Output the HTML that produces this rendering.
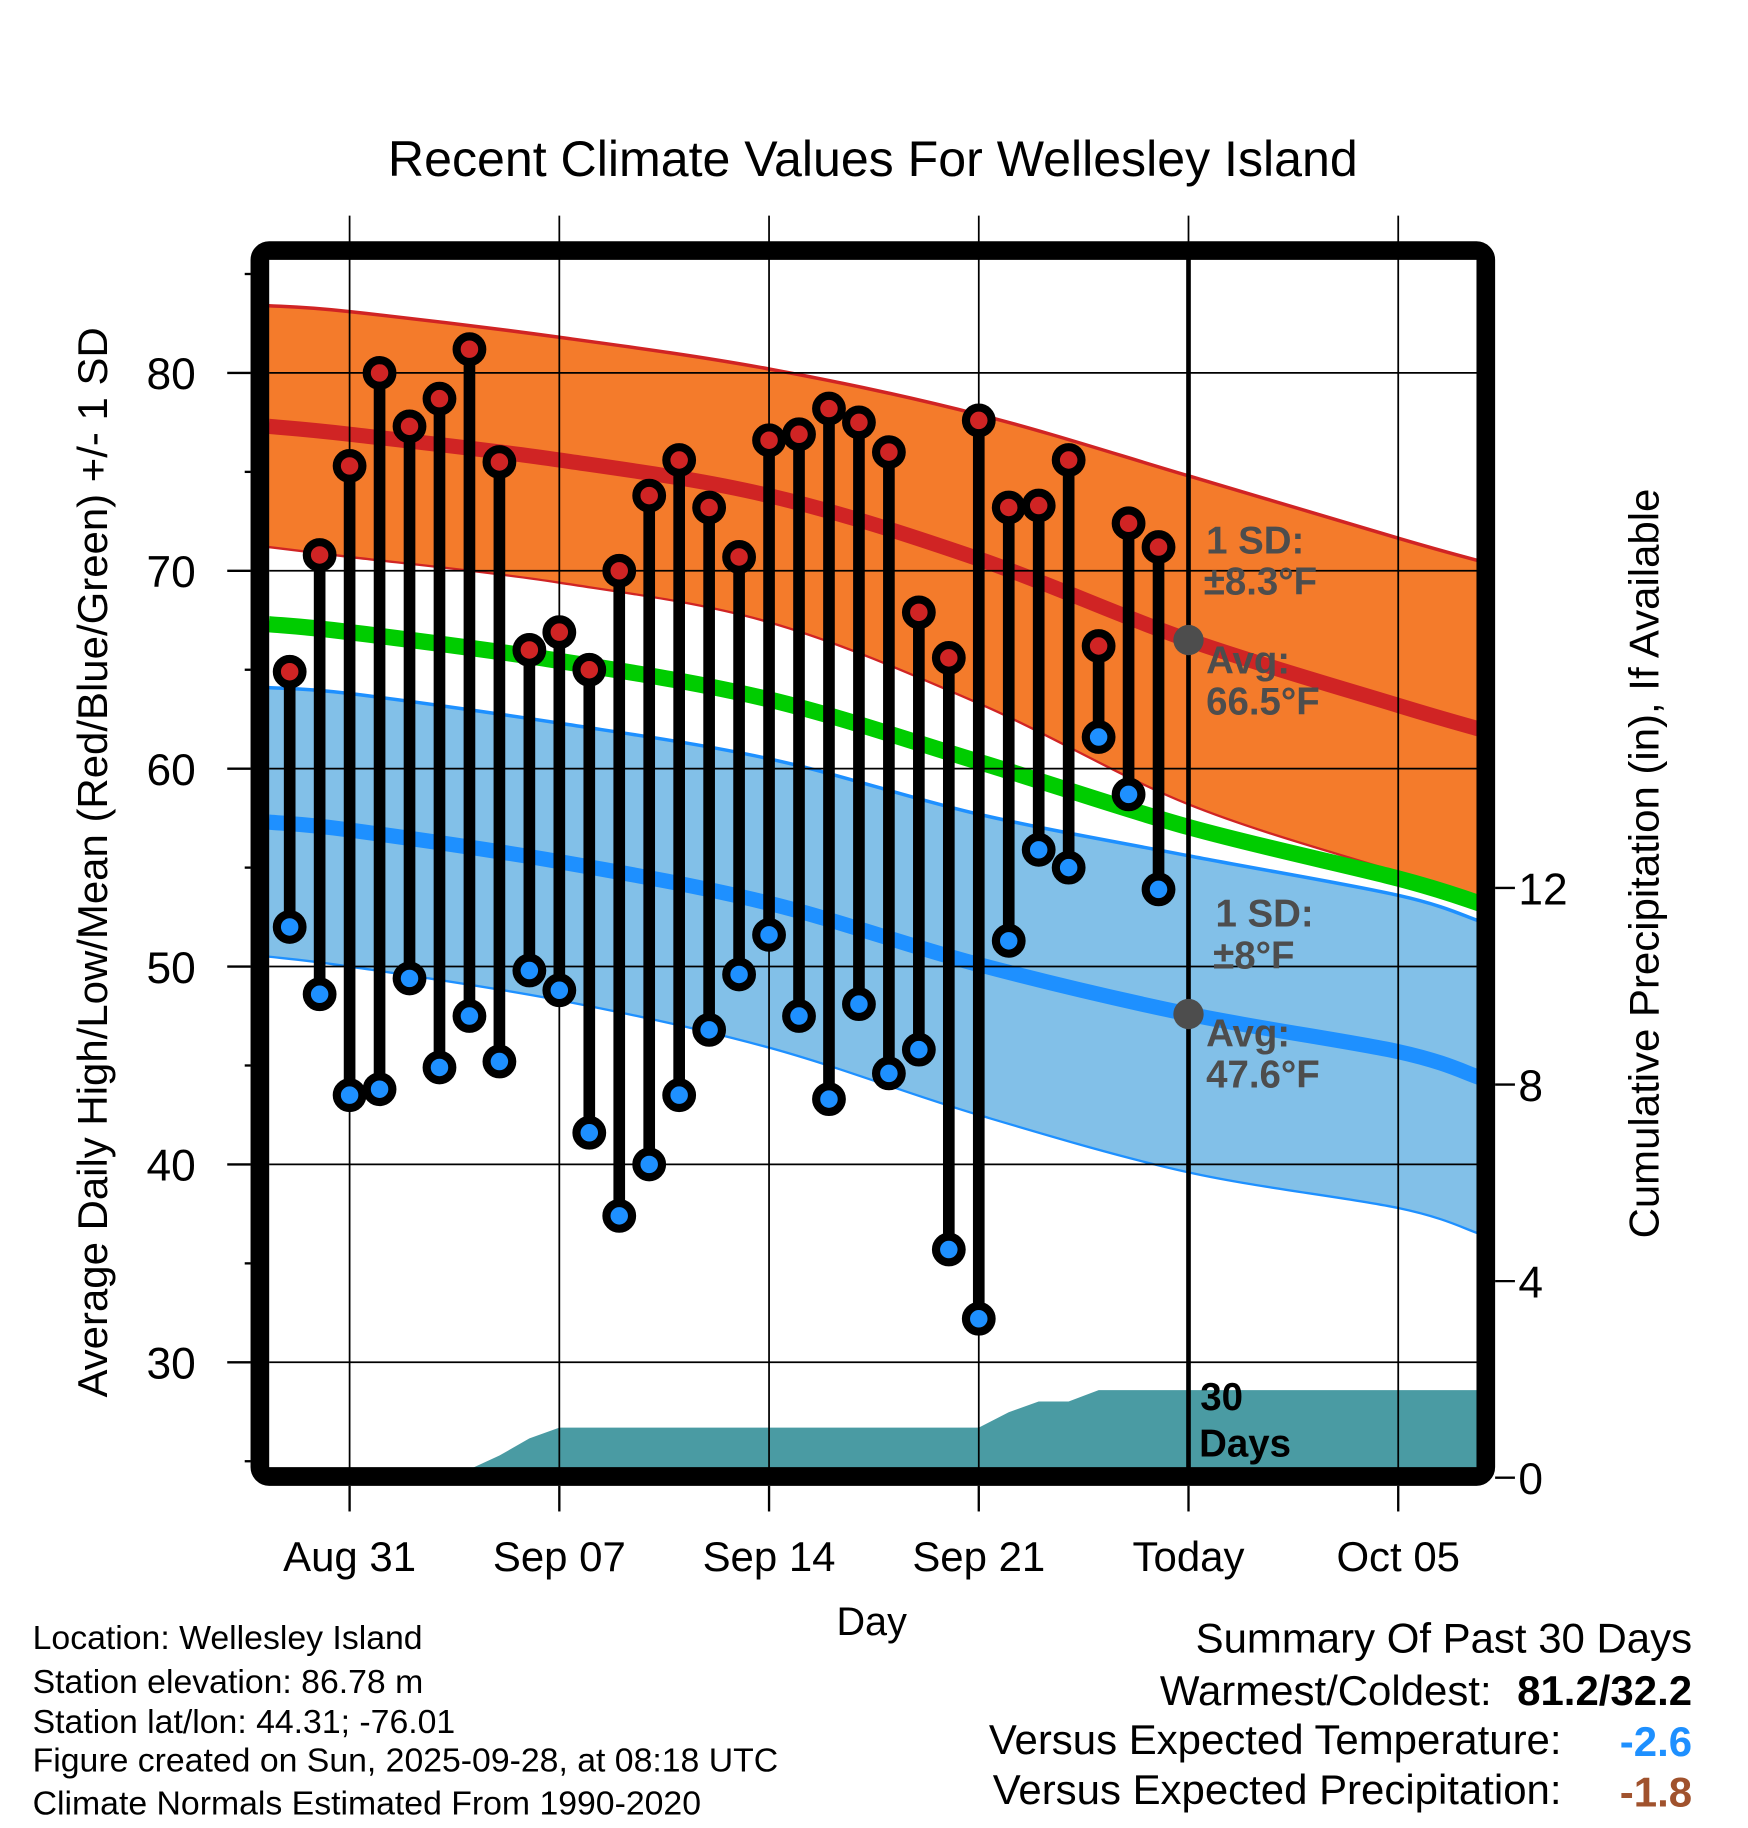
<!DOCTYPE html>
<html><head><meta charset="utf-8"><style>
html,body{margin:0;padding:0;background:#fff;}
svg{display:block;font-family:"Liberation Sans",Arial,sans-serif;}
</style></head><body>
<svg id="chart" width="1748" height="1828" viewBox="0 0 1500 1568.6" xmlns="http://www.w3.org/2000/svg">
<text x="749" y="151" font-size="43" text-anchor="middle">Recent Climate Values For Wellesley Island</text>
<g id="bands"></g>
<g id="precip"></g>
<g id="grid"></g>
<g id="stems"></g>
<g id="annot"></g>
<rect x="223" y="215" width="1052" height="1052" rx="8" fill="none" stroke="#000" stroke-width="16"/>
<g id="axes"></g>
<text transform="translate(92,740) rotate(-90)" font-size="36" text-anchor="middle">Average Daily High/Low/Mean (Red/Blue/Green) +/- 1 SD</text>
<text transform="translate(1423,741) rotate(-90)" font-size="36" text-anchor="middle">Cumulative Precipitation (in), If Available</text>
<text x="748" y="1403" font-size="34" text-anchor="middle">Day</text>
<g font-size="29">
<text x="28" y="1415">Location: Wellesley Island</text>
<text x="28" y="1453">Station elevation: 86.78 m</text>
<text x="28" y="1487">Station lat/lon: 44.31; -76.01</text>
<text x="28" y="1520">Figure created on Sun, 2025-09-28, at 08:18 UTC</text>
<text x="28" y="1557">Climate Normals Estimated From 1990-2020</text>
</g>
<g font-size="36">
<text x="1452" y="1418" text-anchor="end">Summary Of Past 30 Days</text>
<text x="1280" y="1463" text-anchor="end">Warmest/Coldest:</text>
<text x="1452" y="1463" text-anchor="end" font-weight="bold">81.2/32.2</text>
<text x="1340" y="1505" text-anchor="end">Versus Expected Temperature:</text>
<text x="1452" y="1507" text-anchor="end" font-weight="bold" fill="#1E90FF">-2.6</text>
<text x="1340" y="1548" text-anchor="end">Versus Expected Precipitation:</text>
<text x="1452" y="1550" text-anchor="end" font-weight="bold" fill="#A0522D">-1.8</text>
</g>
</svg>
<script>
const days=[-2,-1,0,1,2,3,4,5,6,7,8,9,10,11,12,13,14,15,16,17,18,19,20,21,22,23,24,25,26,27];
const highs=[64.9,70.8,75.3,80.0,77.3,78.7,81.2,75.5,66.0,66.9,65.0,70.0,73.8,75.6,73.2,70.7,76.6,76.9,78.2,77.5,76.0,67.9,65.6,77.6,73.2,73.3,75.6,66.2,72.4,71.2];
const lows=[52.0,48.6,43.5,43.8,49.4,44.9,47.5,45.2,49.8,48.8,41.6,37.4,40.0,43.5,46.8,49.6,51.6,47.5,43.3,48.1,44.6,45.8,35.7,32.2,51.3,55.9,55.0,61.6,58.7,53.9];
const normDays=[-2.7,0,7,14,21,28,35,37.7];
const normHigh=[77.3,76.9,75.6,73.8,70.6,66.5,63.2,62.0];
const sdHigh=[6.1,6.2,6.2,6.4,7.3,8.3,8.45,8.5];
const normLow=[57.3,56.9,55.3,53.2,50.1,47.6,45.7,44.4];
const sdLow=[6.8,6.9,7.0,7.3,7.6,8.0,7.9,7.9];
const precipDays=[-2.7,3.4,5,6,7,21,22,23,24,25,27,37.7];
const precipVals=[0,0,0.45,0.8,1.02,1.02,1.33,1.55,1.55,1.78,1.78,1.78];
const yTicks=[30,40,50,60,70,80];
const y2Ticks=[0,4,8,12];
const xTickDays=[0,7,14,21,28,35];
const xTickLabels=['Aug 31','Sep 07','Sep 14','Sep 21','Today','Oct 05'];

const NS='http://www.w3.org/2000/svg';
const X=d=>300+d*25.71;
const Y=v=>320+(80-v)*16.98;
const P=p=>1268-p*42.17;
const L=231,R=1268,T=222,B=1260;
function mk(tag,attrs,parent){const e=document.createElementNS(NS,tag);for(const k in attrs)e.setAttribute(k,attrs[k]);parent.appendChild(e);return e;}
function pts(xs,ys){return xs.map((d,i)=>[X(d),ys[i]]);}
// smooth Catmull-Rom path string (no M for continuation option)
function smooth(p,start){let s=start?('M'+p[0][0].toFixed(1)+','+p[0][1].toFixed(1)):('L'+p[0][0].toFixed(1)+','+p[0][1].toFixed(1));
 for(let i=0;i<p.length-1;i++){const p0=p[Math.max(0,i-1)],p1=p[i],p2=p[i+1],p3=p[Math.min(p.length-1,i+2)];
  const c1=[p1[0]+(p2[0]-p0[0])/6,p1[1]+(p2[1]-p0[1])/6],c2=[p2[0]-(p3[0]-p1[0])/6,p2[1]-(p3[1]-p1[1])/6];
  s+=' C'+c1.map(v=>v.toFixed(1)).join(',')+' '+c2.map(v=>v.toFixed(1)).join(',')+' '+p2.map(v=>v.toFixed(1)).join(',');}
 return s;}
const bands=document.getElementById('bands');
const hiUp=pts(normDays,normHigh.map((v,i)=>Y(v+sdHigh[i]))),hiDn=pts(normDays,normHigh.map((v,i)=>Y(v-sdHigh[i])));
const loUp=pts(normDays,normLow.map((v,i)=>Y(v+sdLow[i]))),loDn=pts(normDays,normLow.map((v,i)=>Y(v-sdLow[i])));
const rev=a=>a.slice().reverse();
let e;
e=mk('path',{d:smooth(hiUp,true)+' '+smooth(rev(hiDn),false)+' Z',fill:'#F47B2B'},bands);

e=mk('path',{d:smooth(hiUp,true),fill:'none',stroke:'#D02424','stroke-width':3},bands);

e=mk('path',{d:smooth(hiDn,true),fill:'none',stroke:'#D02424','stroke-width':2},bands);

e=mk('path',{d:smooth(loUp,true)+' '+smooth(rev(loDn),false)+' Z',fill:'#82C0E8'},bands);

e=mk('path',{d:smooth(loUp,true),fill:'none',stroke:'#1E90FF','stroke-width':3},bands);

e=mk('path',{d:smooth(loDn,true),fill:'none',stroke:'#1E90FF','stroke-width':2},bands);

e=mk('path',{d:smooth(pts(normDays,normHigh.map(Y)),true),fill:'none',stroke:'#D02424','stroke-width':13},bands);

e=mk('path',{d:smooth(pts(normDays,normLow.map(Y)),true),fill:'none',stroke:'#1E90FF','stroke-width':13},bands);

e=mk('path',{d:smooth(pts(normDays,normHigh.map((v,i)=>Y((v+normLow[i])/2))),true),fill:'none',stroke:'#00CC00','stroke-width':14},bands);

// precip
const pr=document.getElementById('precip');
const pp=pts(precipDays,precipVals.map(P)).map(q=>q[0].toFixed(1)+','+q[1].toFixed(1));
e=mk('polygon',{points:pp.join(' ')+' '+X(precipDays[precipDays.length-1]).toFixed(1)+','+B+' '+X(precipDays[0]).toFixed(1)+','+B,fill:'#4A9BA3'},pr);

// grid
const g=document.getElementById('grid');
yTicks.forEach(v=>{e=mk('line',{x1:L,x2:R,y1:Y(v),y2:Y(v),stroke:'#000','stroke-width':1.5},g);
});
xTickDays.forEach(d=>{e=mk('line',{x1:X(d),x2:X(d),y1:185,y2:B,stroke:'#000','stroke-width':1.5},g);
});
e=mk('line',{x1:X(28),x2:X(28),y1:T,y2:B,stroke:'#000','stroke-width':4},g);

// stems
const s=document.getElementById('stems');
days.forEach((d,i)=>{
 e=mk('line',{x1:X(d),x2:X(d),y1:Y(highs[i]),y2:Y(lows[i]),stroke:'#000','stroke-width':10},s);
 
});
days.forEach((d,i)=>{
 e=mk('circle',{cx:X(d),cy:Y(highs[i]),r:11,fill:'#D02424',stroke:'#000','stroke-width':7},s);
 
 e=mk('circle',{cx:X(d),cy:Y(lows[i]),r:11,fill:'#1E90FF',stroke:'#000','stroke-width':7},s);
 
});
// annotations
const a=document.getElementById('annot');
const todayHi=normHigh[5],todayLo=normLow[5];
e=mk('circle',{cx:X(28),cy:Y(todayHi),r:13,fill:'#4D4D4D'},a);

e=mk('circle',{cx:X(28),cy:Y(todayLo),r:13,fill:'#4D4D4D'},a);

const txt=[[1035,475,'1 SD:','#4D4D4D'],[1033,510,'\u00B18.3\u00B0F','#4D4D4D'],[1035,578,'Avg:','#4D4D4D'],[1035,613,todayHi.toFixed(1)+'\u00B0F','#4D4D4D'],
[1043,795,'1 SD:','#4D4D4D'],[1041,831,'\u00B18\u00B0F','#4D4D4D'],[1035,898,'Avg:','#4D4D4D'],[1035,933,todayLo.toFixed(1)+'\u00B0F','#4D4D4D'],
[1030,1210,'30','#000'],[1029,1250,'Days','#000']];
txt.forEach(t=>{e=mk('text',{x:t[0],y:t[1],fill:t[3],'font-size':33,'font-weight':'bold'},a);e.textContent=t[2];
});
// axes
const ax=document.getElementById('axes');
for(let v=25;v<=85;v+=5){const major=yTicks.includes(v);
 e=mk('line',{x1:major?195:210,x2:215,y1:Y(v),y2:Y(v),stroke:'#000','stroke-width':2},ax);
 }
yTicks.forEach(v=>{e=mk('text',{x:168,y:Y(v)+14,'font-size':38,'text-anchor':'end'},ax);e.textContent=v;
 });
y2Ticks.forEach(v=>{e=mk('line',{x1:1283,x2:1300,y1:P(v),y2:P(v),stroke:'#000','stroke-width':2},ax);
 
 e=mk('text',{x:1303,y:P(v)+14,'font-size':38},ax);e.textContent=v;
 });
xTickDays.forEach((d,i)=>{e=mk('line',{x1:X(d),x2:X(d),y1:1275,y2:1297,stroke:'#000','stroke-width':2},ax);
 
 e=mk('text',{x:X(d),y:1348,'font-size':36,'text-anchor':'middle'},ax);e.textContent=xTickLabels[i];
 });
</script>
</body></html>
